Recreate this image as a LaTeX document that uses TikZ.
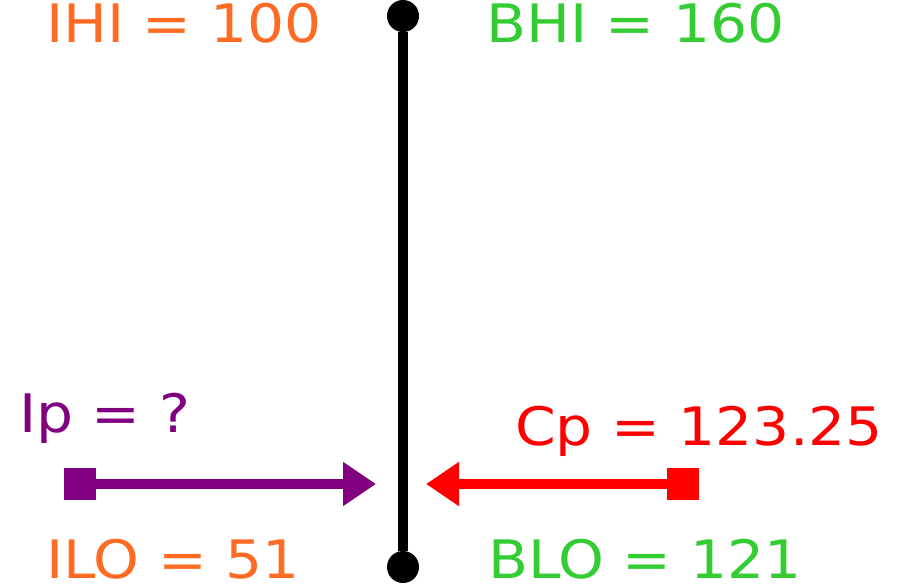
\documentclass[tikz,border=0pt]{standalone}
\usepackage{fontspec}
\setmainfont[FakeStretch=1.1]{DejaVu Sans}
\usepackage{tikz}
\usetikzlibrary{arrows.meta,positioning}
\definecolor{loC}{RGB}{255,106,36}
\definecolor{hiC}{RGB}{51,204,51}
\definecolor{ipC}{RGB}{128,0,128}
\definecolor{cpC}{RGB}{255,0,0}

\begin{document}
\begin{tikzpicture}[x=1pt,y=-1pt,
  lbl/.style={font=\fontsize{53}{60}\selectfont,inner sep=0pt,text depth=0pt,anchor=base west},
  dot/.style={circle,fill=black,inner sep=0pt,minimum size=32pt},
  sqbox/.style={rectangle,inner sep=0pt,minimum size=32pt},
  ptr/.style={line width=10pt,-{Triangle[length=33pt,width=42pt]}}]
  \useasboundingbox (0,0) rectangle (901,587);

  % Vertical bar with end dots
  \node[dot] (hi) at (403,16) {};
  \node[dot] (lo) at (403,567) {};
  \draw[line width=10pt] (hi) -- (lo);

  % Limits
  \node[lbl,loC] (ihi) at (46,42) {IHI = 100};
  \node[lbl,hiC] (bhi) at (486,42) {BHI = 160};
  \node[lbl,loC] (ilo) at (46,578) {ILO = 51};
  \node[lbl,hiC] (blo) at (488,578) {BLO = 121};

  % Ip arrow (purple)
  \node[lbl,ipC] (ip) at (19,432) {Ip = ?};
  \node[sqbox,fill=ipC] (ipsq) at (80,484) {};
  \coordinate (iptip) at (376,484);
  \draw[ptr,ipC] (ipsq.center) -- (iptip);

  % Cp arrow (red)
  \node[lbl,cpC] (cp) at (515,445) {Cp = 123.25};
  \node[sqbox,fill=cpC] (cpsq) at (683,484) {};
  \coordinate (cptip) at (426,484);
  \draw[ptr,cpC] (cpsq.center) -- (cptip);
\end{tikzpicture}
\end{document}
